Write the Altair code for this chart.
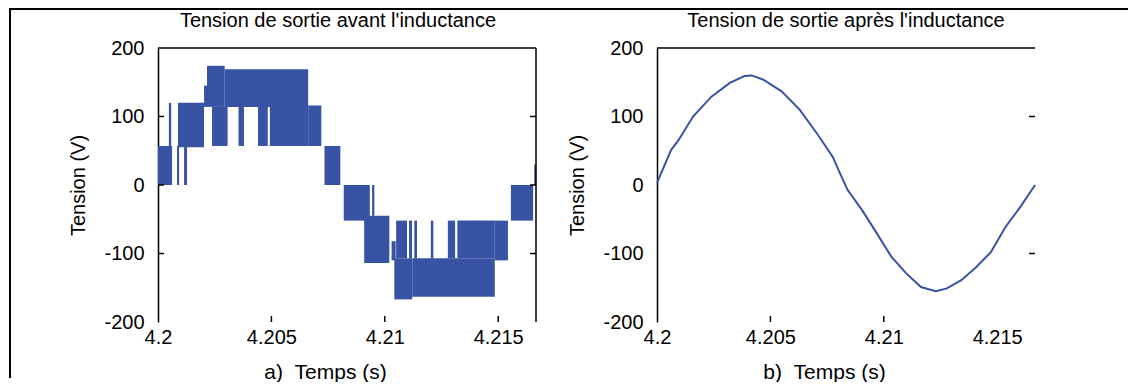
import altair as alt
import pandas as pd

# ---------------- data ----------------
# Left panel: inverter output before the inductor, drawn as switching blocks
# (start time, end time, lower level, upper level), time in s, voltage in V
blk_t0 = [4.20000, 4.20048, 4.20084, 4.20115, 4.20088, 4.20203, 4.20216, 4.20294,
          4.20238, 4.20355, 4.20441, 4.20493, 4.20662, 4.20734, 4.20819, 4.20944,
          4.20909, 4.21030, 4.21042, 4.21121, 4.21050, 4.21107, 4.21130, 4.21203,
          4.21278, 4.21320, 4.21485, 4.21556, 4.21659]
blk_t1 = [4.20062, 4.20058, 4.20093, 4.20128, 4.20203, 4.20216, 4.20294, 4.20662,
          4.20307, 4.20379, 4.20484, 4.20662, 4.20720, 4.20804, 4.20934, 4.20954,
          4.21020, 4.21048, 4.21121, 4.21485, 4.21098, 4.21120, 4.21142, 4.21214,
          4.21310, 4.21485, 4.21543, 4.21654, 4.21667]
blk_lo = [0, 57, 0, 0, 55, 114, 114, 114,
          57, 57, 57, 57, 57, 0, -52, -45,
          -114, -110, -167, -163, -107, -107, -107, -107,
          -107, -107, -110, -52, 0]
blk_hi = [57, 120, 57, 57, 120, 145, 174, 169,
          114, 114, 114, 114, 116, 57, 0, 0,
          -45, -82, -107, -107, -52, -52, -52, -52,
          -52, -52, -52, 0, 30]

# Right panel: filtered output after the inductor
sine_t = [4.20000, 4.20062, 4.20094, 4.20159, 4.20240, 4.20321, 4.20386, 4.20418,
          4.20467, 4.20548, 4.20629, 4.20710, 4.20775, 4.20807, 4.20840, 4.20905,
          4.20970, 4.21034, 4.21099, 4.21164, 4.21229, 4.21278, 4.21342, 4.21407,
          4.21472, 4.21537, 4.21602, 4.21667]
sine_v = [3, 51, 65, 100, 129, 149, 159, 160,
          154, 137, 110, 73, 41, 17, -7, -37,
          -71, -105, -129, -149, -155, -151, -139, -120,
          -98, -61, -32, 0]

x_ticks = [4.2, 4.205, 4.21, 4.215]
y_ticks = [-200, -100, 0, 100, 200]
left_inner_y = [100, 0, -100]
left_inner_x = [4.205, 4.21, 4.215]
right_inner_y = [100, -100]
right_inner_x = [4.205, 4.21]

titles = ["Tension de sortie avant l'inductance", "Tension de sortie après l'inductance"]
x_titles = ["a)\u00a0\u00a0Temps (s)", "b)\u00a0\u00a0Temps (s)"]
y_title = "Tension (V)"

# ---------------- styling ----------------
W, H = 378, 274
BLUE = "#3953A4"
FONT = "Liberation Sans"
FS = 20
TK = 6

xs = alt.Scale(domain=[4.2, 4.216667], nice=False, zero=False)
ys = alt.Scale(domain=[-200, 200], nice=False, zero=False)

one = pd.DataFrame({"k": [0]})


def x_axis(title):
    return alt.Axis(values=x_ticks, title=title, domain=False, ticks=False, tickSize=0,
                    grid=False, labelPadding=5, labelFlush=False,
                    labelExpr="'' + datum.value", titlePadding=14,
                    titleFontSize=21, titleX=W / 2 - 22, titleAlign="center")


def y_axis():
    return alt.Axis(values=y_ticks, title=y_title, domain=True, domainColor="black",
                    domainWidth=1.5, ticks=False, tickSize=0, grid=False,
                    labelPadding=14, labelFlush=False,
                    labelExpr="'' + datum.value", titlePadding=15)


def hrule(x0, x1, y0, w=1.5):
    return alt.Chart(one).mark_rule(color="black", strokeWidth=w).encode(
        x=alt.value(x0), x2=alt.value(x1), y=alt.value(y0))


def vrule(x0, y0, y1, w=1.5):
    return alt.Chart(one).mark_rule(color="black", strokeWidth=w).encode(
        x=alt.value(x0), y=alt.value(y0), y2=alt.value(y1))


def yticks(vals, x0, x1):
    return alt.Chart(pd.DataFrame({"v": vals})).mark_rule(color="black", strokeWidth=1.5).encode(
        y=alt.Y("v:Q", scale=ys, axis=y_axis()), x=alt.value(x0), x2=alt.value(x1))


def xticks(vals, xt):
    return alt.Chart(pd.DataFrame({"t": vals})).mark_rule(color="black", strokeWidth=1.5).encode(
        x=alt.X("t:Q", scale=xs, axis=x_axis(xt)), y=alt.value(H - TK), y2=alt.value(H))


def title_text(txt, cx):
    return alt.Chart(one).mark_text(font=FONT, fontSize=FS, color="black",
                                    align="center", baseline="alphabetic", text=txt).encode(
        x=alt.value(cx), y=alt.value(-21))


# ---------------- left panel ----------------
blk_df = pd.DataFrame({"t0": blk_t0, "t1": blk_t1, "lo": blk_lo, "hi": blk_hi})
blocks = alt.Chart(blk_df).mark_rect(color=BLUE).encode(
    x=alt.X("t0:Q", scale=xs, axis=x_axis(x_titles[0])),
    x2="t1:Q",
    y=alt.Y("lo:Q", scale=ys, axis=y_axis()),
    y2="hi:Q",
)

left = alt.layer(
    blocks,
    hrule(0, W, 0),
    vrule(W, 0, H),
    yticks(left_inner_y, 0, TK),
    yticks(left_inner_y, W - TK, W),
    xticks(left_inner_x, x_titles[0]),
    title_text(titles[0], W / 2 - 9),
    # figure frame
    vrule(-148, -39, 330, 2),
    hrule(-149, 970, -39, 2),
).properties(width=W, height=H)

# ---------------- right panel ----------------
sine_df = pd.DataFrame({"t": sine_t, "v": sine_v})
curve = alt.Chart(sine_df).mark_line(color=BLUE, strokeWidth=2).encode(
    x=alt.X("t:Q", scale=xs, axis=x_axis(x_titles[1])),
    y=alt.Y("v:Q", scale=ys, axis=y_axis()),
)

right = alt.layer(
    curve,
    hrule(0, W, 0),
    yticks(right_inner_y, W - TK, W),
    xticks(right_inner_x, x_titles[1]),
    title_text(titles[1], W / 2),
).properties(width=W, height=H)

chart = alt.hconcat(left, right, spacing=121, bounds="flush").properties(
    padding={"left": 0, "top": 0, "right": 0, "bottom": 0}
).configure_view(stroke=None).configure_axis(
    labelFont=FONT, labelFontSize=FS, labelColor="black",
    titleFont=FONT, titleFontSize=FS, titleFontWeight="normal", titleColor="black",
)

chart.save("out.html", embed_options={"renderer": "svg", "actions": False})
